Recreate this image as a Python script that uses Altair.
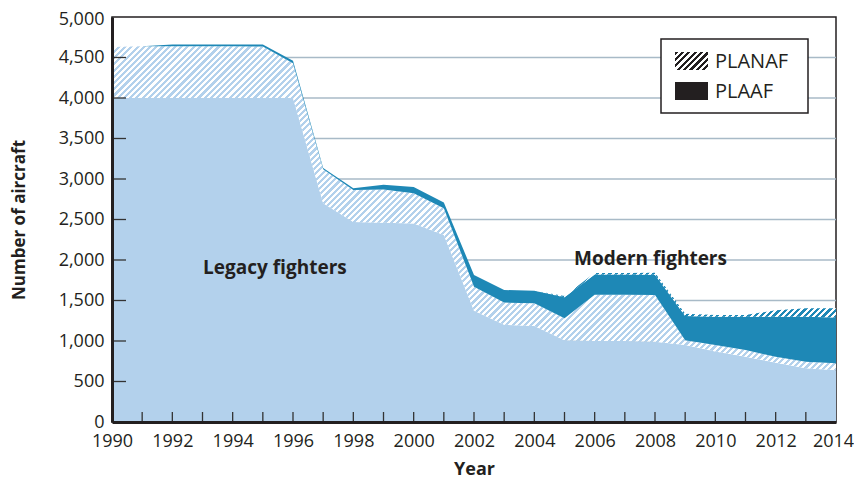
import math
import altair as alt
import pandas as pd

# ---- data ----
years = list(range(1990, 2015))
legacy_plaaf = [4000, 4000, 4000, 4000, 4000, 4000, 4000, 2700, 2470, 2460, 2450, 2310,
                1375, 1200, 1185, 1010, 1000, 1000, 990, 950, 870, 805, 730, 665, 640]
legacy_planaf = [630, 640, 640, 640, 640, 635, 430, 420, 395, 410, 375, 330,
                 295, 275, 280, 270, 570, 570, 578, 60, 80, 85, 75, 80, 85]
modern_plaaf = [0, 0, 20, 20, 20, 25, 30, 15, 20, 60, 75, 70,
                145, 155, 155, 260, 250, 250, 250, 300, 350, 410, 495, 555, 565]
modern_planaf = [0, 0, 0, 0, 0, 0, 0, 0, 0, 0, 0, 0,
                 0, 0, 0, 15, 20, 20, 25, 25, 20, 20, 80, 105, 115]
modern_planaf_start = 2004

y_ticks = [0, 500, 1000, 1500, 2000, 2500, 3000, 3500, 4000, 4500, 5000]
grid_values = [500, 1000, 1500, 2000, 2500, 3000, 3500, 4000, 4500]
x_label_years = list(range(1990, 2015, 2))
x_tick_years = list(range(1991, 2014))

df = pd.DataFrame({"year": years})
df["c0"] = 0
df["c1"] = legacy_plaaf
df["c2"] = df["c1"] + pd.Series(legacy_planaf)
df["c3"] = df["c2"] + pd.Series(modern_plaaf)
df["c4"] = df["c3"] + pd.Series(modern_planaf)

# ---- layout / style ----
PW, PH = 724, 405
YMAX = 5000
k = PH / YMAX
LIGHT = "#B3D1EC"
DARK = "#1E88B6"
INK = "#231F20"
FONT = "Open Sans"


def hatch(color_a, color_b, w, h, period):
    r = h / w
    dx = (1 + r) / (1 + r * r)
    dy = r * dx
    d = (w + h) / math.sqrt(2)
    n = max(2, int(round(d / (period / 2))))
    stops = []
    for i in range(n):
        c = color_a if i % 2 == 0 else color_b
        stops.append({"offset": round(i / n, 6), "color": c})
        stops.append({"offset": round((i + 1) / n, 6), "color": c})
    return {"gradient": "linear", "x1": 0, "y1": 0, "x2": dx, "y2": dy, "stops": stops}


xs = alt.Scale(domain=[1990, 2014], nice=False, zero=False)
ys = alt.Scale(domain=[0, YMAX], nice=False)
xaxis = alt.Axis(values=x_label_years, labelExpr="format(datum.value, 'd')", title="Year",
                 grid=False, ticks=False, tickSize=0, labelPadding=10, titlePadding=10,
                 labelFlush=False, labelOverlap=False, zindex=2,
                 labelOffset={"condition": {"test": "datum.value == 2014", "value": -3},
                              "value": 0},
                 titleFontSize=18)
yaxis = alt.Axis(values=y_ticks, labelExpr="format(datum.value, ',')",
                 title="Number of aircraft", grid=False, ticks=False, tickSize=0,
                 labelPadding=8, titlePadding=30, labelFlush=False, labelOverlap=False,
                 zindex=2,
                 labelOffset={"condition": {"test": "datum.value == 5000", "value": 2},
                              "value": 0})

X = alt.X("year:Q", scale=xs, axis=xaxis)


def Yf(f):
    return alt.Y(f"{f}:Q", scale=ys, axis=yaxis)


def Y2f(f):
    return alt.Y2(f"{f}:Q")


base = alt.Chart(df)

grid = alt.Chart(pd.DataFrame({"v": grid_values})).mark_rule(
    color="#A8BAC7", strokeWidth=1.5).encode(y=Yf("v"))

a_legacy_plaaf = base.mark_area(color=LIGHT).encode(x=X, y=Yf("c1"), y2=Y2f("c0"))

h_ln = (df["c2"].max() - df["c1"].min()) * k
a_legacy_planaf = base.mark_area(
    color=hatch(LIGHT, "#FFFFFF", PW, h_ln, 4.4)
).encode(x=X, y=Yf("c2"), y2=Y2f("c1"))

a_modern_plaaf = base.mark_area(color=DARK).encode(x=X, y=Yf("c3"), y2=Y2f("c2"))

sub = df[df["year"] >= modern_planaf_start]
h_mn = (sub["c4"].max() - sub["c3"].min()) * k
w_mn = PW * (2014 - modern_planaf_start) / 24
a_modern_planaf = base.transform_filter(
    alt.datum.year >= modern_planaf_start
).mark_area(color=hatch(DARK, "#FFFFFF", w_mn, h_mn, 4.4)).encode(
    x=X, y=Yf("c4"), y2=Y2f("c3"))

xt = alt.Chart(pd.DataFrame({"t": x_tick_years})).mark_rule(
    color="#333333", strokeWidth=1.3).encode(
    x=alt.X("t:Q", scale=xs, axis=xaxis), y=alt.value(PH), y2=alt.value(PH - 10))
yt = alt.Chart(pd.DataFrame({"v": grid_values})).mark_rule(
    color="#333333", strokeWidth=1.3).encode(
    y=Yf("v"), x=alt.value(0), x2=alt.value(14))

one = pd.DataFrame({"a": [0]})
t_legacy = alt.Chart(one).mark_text(
    font=FONT, fontSize=19, fontWeight="bold", color=INK).encode(
    x=alt.X(datum=1995.4, scale=xs, axis=xaxis), y=alt.Y(datum=1900, scale=ys, axis=yaxis),
    text=alt.value("Legacy fighters"))
t_modern = alt.Chart(one).mark_text(
    font=FONT, fontSize=19, fontWeight="bold", color=INK).encode(
    x=alt.X(datum=2007.85, scale=xs, axis=xaxis), y=alt.Y(datum=2010, scale=ys, axis=yaxis),
    text=alt.value("Modern fighters"))

# legend
lg_box = alt.Chart(one).mark_rect(fill="white", stroke=INK, strokeWidth=1.5).encode(
    x=alt.value(549), x2=alt.value(696), y=alt.value(22), y2=alt.value(96))
lg_hatch = alt.Chart(one).mark_rect(fill=hatch(INK, "#FFFFFF", 33, 18, 4.6)).encode(
    x=alt.value(563), x2=alt.value(596), y=alt.value(35), y2=alt.value(53))
lg_solid = alt.Chart(one).mark_rect(fill=INK).encode(
    x=alt.value(563), x2=alt.value(596), y=alt.value(65), y2=alt.value(83))
lg_t1 = alt.Chart(one).mark_text(font=FONT, fontSize=20, color=INK, align="left",
                                 baseline="middle").encode(
    x=alt.value(603), y=alt.value(45), text=alt.value("PLANAF"))
lg_t2 = alt.Chart(one).mark_text(font=FONT, fontSize=20, color=INK, align="left",
                                 baseline="middle").encode(
    x=alt.value(603), y=alt.value(75), text=alt.value("PLAAF"))

chart = alt.layer(
    grid, a_legacy_plaaf, a_legacy_planaf, a_modern_plaaf, a_modern_planaf,
    xt, yt, t_legacy, t_modern, lg_box, lg_hatch, lg_solid, lg_t1, lg_t2
).properties(
    width=PW, height=PH,
    padding={"left": 104, "top": 9, "right": 18, "bottom": 57},
    autosize=alt.AutoSizeParams(type="none"),
).configure_view(
    stroke=INK, strokeWidth=1.5
).configure_axis(
    labelFont=FONT, titleFont=FONT, labelFontSize=18, titleFontSize=17,
    labelColor=INK, titleColor=INK, titleFontWeight="bold",
    domainColor=INK, domainWidth=3,
)

chart.save("out.html", embed_options={"renderer": "svg", "actions": False})
